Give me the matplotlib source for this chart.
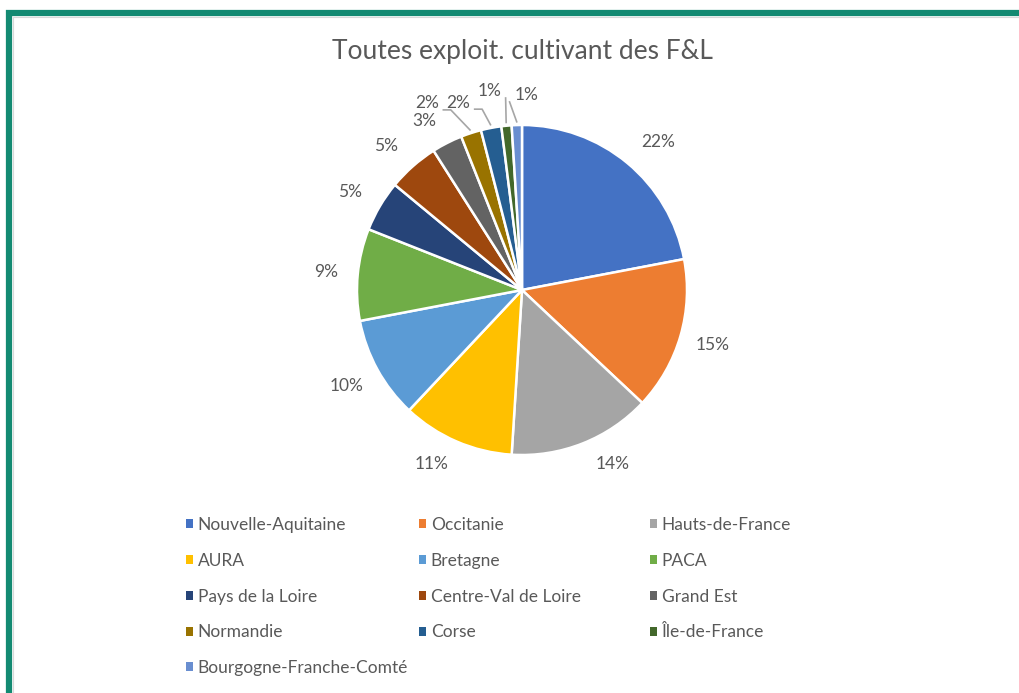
import numpy as np
import matplotlib
matplotlib.use("Agg")
import matplotlib.pyplot as plt
from matplotlib.patches import Patch, Rectangle

plt.rcParams['font.family'] = ['Lato', 'DejaVu Sans']

# data
regions = ['Nouvelle-Aquitaine', 'Occitanie', 'Hauts-de-France', 'AURA', 'Bretagne',
           'PACA', 'Pays de la Loire', 'Centre-Val de Loire', 'Grand Est',
           'Normandie', 'Corse', 'Île-de-France', 'Bourgogne-Franche-Comté']
shares = [22, 15, 14, 11, 10, 9, 5, 5, 3, 2, 2, 1, 1]
colors = ['#4472C4', '#ED7D31', '#A5A5A5', '#FFC000', '#5B9BD5', '#70AD47',
          '#264478', '#9E480E', '#636363', '#997300', '#255E91', '#43682B', '#698ED0']

# label placement tweaks (deg shift, radius) - excel moves the crowded ones
lab_shift = [-3, 0, 6, -4, 0, 0, 1, 2, 3, 9, 8, 4, -3]
lab_r = [1.22, 1.2, 1.19, 1.19, 1.21, 1.19, 1.2, 1.2, 1.18, 1.27, 1.2, 1.22, 1.18]
leader = [False] * 9 + [True] * 4

W, H = 1019, 693
fig = plt.figure(figsize=(W / 100, H / 100), dpi=100)
grey = '#595959'
fs = 12.5

# pie axes: center (522, 290) px, radius 165 px, limits +-1.5
R = 165
k = 1.5
side = 2 * R * k
cx, cy = 522, 290
ax = fig.add_axes([(cx - side / 2) / W, (H - cy - side / 2) / H, side / W, side / H])
wedges, _ = ax.pie(shares, colors=colors, startangle=90, counterclock=False,
                   wedgeprops=dict(edgecolor='white', linewidth=1.8))
ax.set_xlim(-k, k)
ax.set_ylim(-k, k)
ax.set_aspect('equal')
ax.axis('off')

for i, w in enumerate(wedges):
    mid = (w.theta1 + w.theta2) / 2
    a = np.deg2rad(mid + lab_shift[i])
    r = lab_r[i]
    lx, ly = r * np.cos(a), r * np.sin(a)
    ax.text(lx, ly, f'{shares[i]}%', ha='center', va='center', fontsize=fs, color=grey)
    if leader[i]:
        m = np.deg2rad(mid)
        x0, y0 = 1.02 * np.cos(m), 1.02 * np.sin(m)
        side_sign = 1 if x0 > lx else -1
        ex, ey = lx + side_sign * 0.1, ly - 0.04
        pts_x = [x0, ex + side_sign * 0.045, ex] if i < 11 else [x0, ex]
        pts_y = [y0, ey, ey] if i < 11 else [y0, ey]
        ax.plot(pts_x, pts_y, color='#A6A6A6', lw=1.2)

fig.text(cx / W, 1 - 52 / H, 'Toutes exploit. cultivant des F&L', ha='center', va='center',
         fontsize=19, color=grey)

# legend: three fixed-width columns, filled row by row like Excel
col_x = [186, 419, 650]
for c in range(3):
    idx = list(range(c, len(regions), 3))
    handles = [Patch(facecolor=colors[i], edgecolor='none') for i in idx]
    leg = fig.legend(handles, [regions[i] for i in idx], loc='upper left',
                     bbox_to_anchor=(col_x[c] / W, 1 - 517 / H), frameon=False,
                     fontsize=fs, labelcolor=grey, handlelength=0.42, handleheight=0.42,
                     handletextpad=0.25, labelspacing=1.14, borderpad=0, borderaxespad=0)

# teal frame (cropped on right and bottom)
fig.patches.append(Rectangle((9 / W, -0.1), 1.2, 1 - 13 / H + 0.1, transform=fig.transFigure,
                             fill=False, edgecolor='#138A72', lw=4.5))
fig.patches.append(Rectangle((13 / W, -0.1), 1.2, 1 - 17 / H + 0.1, transform=fig.transFigure,
                             fill=False, edgecolor='#D9D9D9', lw=0.8))

fig.savefig('out.png', dpi=100)
